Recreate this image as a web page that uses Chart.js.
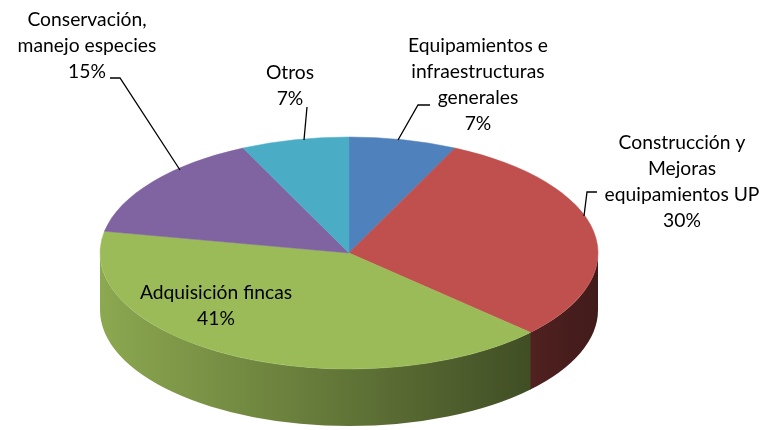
<!DOCTYPE html>
<html><head><meta charset="utf-8">
<script src="https://cdn.jsdelivr.net/npm/chart.js@4/dist/chart.umd.min.js"></script>
<style>html,body{margin:0;padding:0;background:#fff;overflow:hidden}canvas{display:block}</style>
</head><body>
<canvas id="c" width="763" height="430" style="width:763px;height:430px"></canvas>
<script>
// ---- data ----
const categories = ['Equipamientos e infraestructuras generales', 'Construcción y Mejoras equipamientos UP', 'Adquisición fincas', 'Conservación, manejo especies', 'Otros'];
const values = [7, 30, 41, 15, 7];
const labelLines = [
  ['Equipamientos e', 'infraestructuras', 'generales'],
  ['Construcción y', 'Mejoras', 'equipamientos UP'],
  ['Adquisición fincas'],
  ['Conservación,', 'manejo especies'],
  ['Otros']
];
const colors = ['#4F81BD', '#C0504D', '#9BBB59', '#8064A2', '#4BACC6'];

// ---- layout (positions/styles, not data) ----
const E = {cx: 349, cy: 253, rx: 249, ry: 116, depth: 57};
const LH = 25.8;
const labelLayout = [
  {x: 478, y0: 46, leader: [[430, 105], [418, 105], [398, 140]]},
  {x: 682, y0: 143, leader: [[597, 192], [587, 192], [584, 216]]},
  {x: 216, y0: 293, leader: null},
  {x: 87, y0: 20, leader: [[110, 78], [120, 78], [180, 170]]},
  {x: 290, y0: 73, leader: [[307, 107], [304, 140]]}
];
const FONT_FAMILY = 'Lato, "Open Sans", sans-serif';

function shade(hex, f) {
  const n = parseInt(hex.slice(1), 16);
  const r = Math.round(((n >> 16) & 255) * f), g = Math.round(((n >> 8) & 255) * f), b = Math.round((n & 255) * f);
  return `rgb(${r},${g},${b})`;
}

// fit font size so widest reference line measures ~155px
const mctx = document.createElement('canvas').getContext('2d');
mctx.font = '20px ' + FONT_FAMILY;
const fontSize = 20 * 155 / mctx.measureText('equipamientos UP').width;

const pie3d = {
  id: 'pie3d',
  beforeDatasetsDraw(chart) {
    const ctx = chart.ctx;
    const meta = chart.getDatasetMeta(0);
    const {x, y, outerRadius: r} = meta.data[0].getProps(['x', 'y', 'outerRadius'], true);
    const kx = E.rx / r, ky = E.ry / r;
    const applyT = () => { ctx.translate(E.cx, E.cy); ctx.scale(kx, ky); ctx.translate(-x, -y); };
    const dyPie = E.depth / ky;
    ctx.save();
    applyT();
    meta.data.forEach((el, i) => {
      const p = el.getProps(['startAngle', 'endAngle'], true);
      const a = Math.max(p.startAngle, 0), b = Math.min(p.endAngle + 0.004, Math.PI);
      if (a >= b) return;
      const g = ctx.createLinearGradient(x - r, 0, x + r, 0);
      g.addColorStop(0, shade(colors[i], 0.9));
      g.addColorStop(1, shade(colors[i], 0.34));
      ctx.fillStyle = g;
      ctx.beginPath();
      ctx.arc(x, y, r, a, b);
      ctx.arc(x, y + dyPie, r, b, a, true);
      ctx.closePath();
      ctx.fill();
    });
    ctx.restore();
    ctx.save();
    applyT();
  },
  afterDatasetsDraw(chart) {
    const ctx = chart.ctx;
    ctx.restore();
    const total = values.reduce((s, v) => s + v, 0);
    ctx.save();
    ctx.fillStyle = '#000';
    ctx.font = fontSize.toFixed(2) + 'px ' + FONT_FAMILY;
    ctx.textAlign = 'center';
    ctx.textBaseline = 'middle';
    values.forEach((v, i) => {
      const L = labelLayout[i];
      const lines = labelLines[i].concat([Math.round(v / total * 100) + '%']);
      lines.forEach((t, j) => ctx.fillText(t, L.x, L.y0 + j * LH));
      if (L.leader) {
        ctx.beginPath();
        ctx.strokeStyle = '#000';
        ctx.lineWidth = 1.3;
        L.leader.forEach((pt, k) => k ? ctx.lineTo(pt[0], pt[1]) : ctx.moveTo(pt[0], pt[1]));
        ctx.stroke();
      }
    });
    ctx.restore();
  }
};

new Chart(document.getElementById('c'), {
  type: 'pie',
  data: {
    labels: categories,
    datasets: [{
      data: values,
      backgroundColor: colors,
      borderColor: colors,
      borderWidth: 0.6,
      clip: false
    }]
  },
  options: {
    responsive: false,
    maintainAspectRatio: false,
    animation: false,
    events: [],
    layout: {padding: 0},
    plugins: {legend: {display: false}, tooltip: {enabled: false}}
  },
  plugins: [pie3d]
});
</script>
</body></html>
